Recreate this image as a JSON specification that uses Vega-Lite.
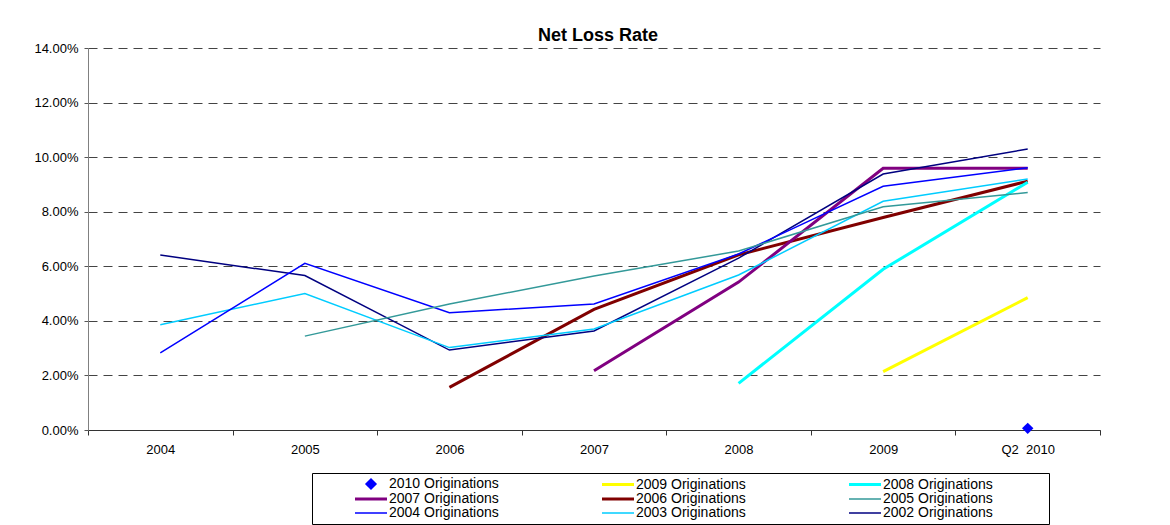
{
  "$schema": "https://vega.github.io/schema/vega-lite/v6.json",
  "autosize": "none",
  "width": 1012,
  "height": 382,
  "padding": {"left": 88, "top": 48, "right": 70, "bottom": 95},
  "background": "#ffffff",
  "config": {
    "view": {"stroke": null},
    "font": "Liberation Sans, Arial, sans-serif"
  },
  "title": {
    "text": "Net Loss Rate",
    "fontSize": 18,
    "fontWeight": "bold",
    "font": "Liberation Sans, Arial, sans-serif",
    "color": "#000000",
    "anchor": "middle",
    "baseline": "alphabetic",
    "offset": 6,
    "dx": 4,
    "dy": 23
  },
  "data": {
    "values": [
      {"series": "2002 Originations", "period": "2004", "value": 0.0641},
      {"series": "2002 Originations", "period": "2005", "value": 0.0566},
      {"series": "2002 Originations", "period": "2006", "value": 0.0293},
      {"series": "2002 Originations", "period": "2007", "value": 0.0363},
      {"series": "2002 Originations", "period": "2008", "value": 0.0630},
      {"series": "2002 Originations", "period": "2009", "value": 0.0938},
      {"series": "2002 Originations", "period": "Q2\u00a0\u00a02010", "value": 0.1030},
      {"series": "2003 Originations", "period": "2004", "value": 0.0386},
      {"series": "2003 Originations", "period": "2005", "value": 0.0500},
      {"series": "2003 Originations", "period": "2006", "value": 0.0302},
      {"series": "2003 Originations", "period": "2007", "value": 0.0370},
      {"series": "2003 Originations", "period": "2008", "value": 0.0568},
      {"series": "2003 Originations", "period": "2009", "value": 0.0838},
      {"series": "2003 Originations", "period": "Q2\u00a0\u00a02010", "value": 0.0920},
      {"series": "2004 Originations", "period": "2004", "value": 0.0283},
      {"series": "2004 Originations", "period": "2005", "value": 0.0611},
      {"series": "2004 Originations", "period": "2006", "value": 0.0430},
      {"series": "2004 Originations", "period": "2007", "value": 0.0462},
      {"series": "2004 Originations", "period": "2008", "value": 0.0645},
      {"series": "2004 Originations", "period": "2009", "value": 0.0893},
      {"series": "2004 Originations", "period": "Q2\u00a0\u00a02010", "value": 0.0961},
      {"series": "2005 Originations", "period": "2005", "value": 0.0344},
      {"series": "2005 Originations", "period": "2006", "value": 0.0462},
      {"series": "2005 Originations", "period": "2007", "value": 0.0564},
      {"series": "2005 Originations", "period": "2008", "value": 0.0656},
      {"series": "2005 Originations", "period": "2009", "value": 0.0818},
      {"series": "2005 Originations", "period": "Q2\u00a0\u00a02010", "value": 0.0870},
      {"series": "2006 Originations", "period": "2006", "value": 0.0156},
      {"series": "2006 Originations", "period": "2007", "value": 0.0442},
      {"series": "2006 Originations", "period": "2008", "value": 0.0642},
      {"series": "2006 Originations", "period": "2009", "value": 0.0779},
      {"series": "2006 Originations", "period": "Q2\u00a0\u00a02010", "value": 0.0912},
      {"series": "2007 Originations", "period": "2007", "value": 0.0217},
      {"series": "2007 Originations", "period": "2008", "value": 0.0542},
      {"series": "2007 Originations", "period": "2009", "value": 0.0959},
      {"series": "2007 Originations", "period": "Q2\u00a0\u00a02010", "value": 0.0959},
      {"series": "2008 Originations", "period": "2008", "value": 0.0171},
      {"series": "2008 Originations", "period": "2009", "value": 0.0589},
      {"series": "2008 Originations", "period": "Q2\u00a0\u00a02010", "value": 0.0908},
      {"series": "2009 Originations", "period": "2009", "value": 0.0214},
      {"series": "2009 Originations", "period": "Q2\u00a0\u00a02010", "value": 0.0485},
      {"series": "2010 Originations", "period": "Q2\u00a0\u00a02010", "value": 0.0006}
    ]
  },
  "encoding": {
    "x": {
      "field": "period",
      "type": "ordinal",
      "scale": {"type": "band", "paddingInner": 0, "paddingOuter": 0, "domain": ["2004", "2005", "2006", "2007", "2008", "2009", "Q2\u00a0\u00a02010"]},
      "axis": {
        "title": null,
        "labelAngle": 0,
        "labelFontSize": 13,
        "labelColor": "#000000",
        "labelPadding": 8,
        "tickBand": "extent",
        "tickSize": 5,
        "tickColor": "#333333",
        "domainColor": "#333333",
        "grid": false
      }
    },
    "y": {
      "field": "value",
      "type": "quantitative",
      "scale": {"domain": [0, 0.14], "nice": false, "zero": true},
      "axis": {
        "title": null,
        "format": ".2%",
        "values": [0, 0.02, 0.04, 0.06, 0.08, 0.1, 0.12, 0.14],
        "labelFontSize": 13,
        "labelColor": "#000000",
        "labelPadding": 6,
        "tickSize": 4,
        "tickColor": "#555555",
        "domainColor": "#808080",
        "grid": true,
        "gridColor": "#444444",
        "gridDash": [9, 6],
        "gridWidth": 1
      }
    },
    "color": {
      "field": "series",
      "type": "nominal",
      "scale": {
        "domain": ["2010 Originations", "2009 Originations", "2008 Originations", "2007 Originations", "2006 Originations", "2005 Originations", "2004 Originations", "2003 Originations", "2002 Originations"],
        "range": ["#0000FF", "#FFFF00", "#00FFFF", "#800080", "#800000", "#339999", "#0000FF", "#00CCFF", "#000080"]
      },
      "legend": {
        "orient": "none",
        "legendX": 224,
        "legendY": 425,
        "direction": "horizontal",
        "columns": 3,
        "title": "\u00a0",
        "titleOrient": "right",
        "titlePadding": 52,
        "titleFontSize": 14,
        "strokeColor": "#000000",
        "fillColor": "#ffffff",
        "padding": 4,
        "symbolType": "stroke",
        "symbolSize": 1024,
        "symbolOffset": 48,
        "labelOffset": 11,
        "labelFontSize": 14,
        "labelColor": "#000000",
        "labelLimit": 400,
        "columnPadding": 64,
        "rowPadding": 0,
        "encode": {
          "symbols": {
            "update": {
              "shape": {"signal": "datum.value === '2010 Originations' ? 'diamond' : 'stroke'"},
              "size": {"signal": "datum.value === '2010 Originations' ? 100 : 1024"},
              "fill": {"signal": "datum.value === '2010 Originations' ? '#0000FF' : 'transparent'"},
              "stroke": {"signal": "datum.value === '2010 Originations' ? 'transparent' : scale('color', datum.value)"},
              "strokeWidth": {"signal": "indexof(['2009 Originations','2008 Originations','2007 Originations','2006 Originations'], datum.value) >= 0 ? 3 : 1.5"},
              "opacity": {"value": 1}
            }
          }
        }
      }
    }
  },
  "layer": [
    {
      "transform": [{"filter": {"field": "series", "oneOf": ["2006 Originations", "2007 Originations", "2008 Originations", "2009 Originations"]}}],
      "mark": {"type": "line", "strokeWidth": 3}
    },
    {
      "transform": [{"filter": {"field": "series", "oneOf": ["2002 Originations", "2003 Originations", "2004 Originations", "2005 Originations"]}}],
      "mark": {"type": "line", "strokeWidth": 1.5}
    },
    {
      "transform": [{"filter": {"field": "series", "equal": "2010 Originations"}}],
      "mark": {"type": "point", "shape": "diamond", "filled": true, "size": 130, "opacity": 1}
    }
  ]
}
